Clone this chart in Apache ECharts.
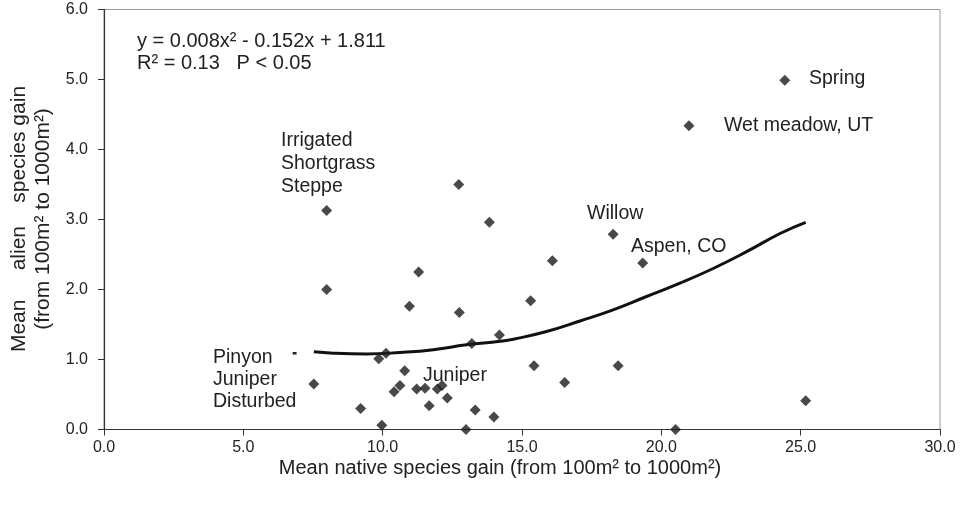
<!DOCTYPE html>
<html>
<head>
<meta charset="utf-8">
<script src="https://cdn.jsdelivr.net/npm/echarts@6/dist/echarts.min.js"></script>
<style>
html,body{margin:0;padding:0;background:#fff;}
#c{width:960px;height:509px;}
</style>
</head>
<body>
<div id="c"></div>
<script>
// Site points: mean native species gain (x) vs mean alien species gain (y)
const nativeGain = [24.43, 20.99, 12.73, 7.99, 13.83, 18.27, 16.09, 19.33, 11.29, 7.99,
  15.31, 10.96, 12.75, 14.19, 13.20, 10.12, 9.86, 15.43, 18.45, 10.79,
  16.53, 7.53, 10.62, 12.13, 11.52, 11.22, 11.96, 10.41, 12.32, 25.18,
  11.67, 9.21, 13.32, 13.99, 9.97, 12.99, 20.51];
const alienGain = [4.99, 4.34, 3.50, 3.13, 2.96, 2.79, 2.41, 2.38, 2.25, 2.00,
  1.84, 1.76, 1.67, 1.35, 1.23, 1.09, 1.01, 0.91, 0.91, 0.84,
  0.67, 0.65, 0.63, 0.63, 0.59, 0.58, 0.58, 0.54, 0.45, 0.41,
  0.34, 0.30, 0.28, 0.18, 0.06, 0.00, 0.00];

// Fitted curve
const fitX = [7.53, 8.23, 9.43, 10.62, 11.82, 13.01, 14.21, 14.69, 15.88, 17.08, 18.27, 19.47, 20.67, 21.86, 23.06, 24.26, 25.18];
const fitY = [1.11, 1.09, 1.08, 1.10, 1.14, 1.21, 1.26, 1.29, 1.40, 1.55, 1.71, 1.90, 2.09, 2.30, 2.54, 2.80, 2.96];

// small stray dash left of the curve start
const dashX = [6.77, 6.91];
const dashY = [1.09, 1.09];

const xAxisMin = 0, xAxisMax = 30, xStep = 5;
const yAxisMin = 0, yAxisMax = 6, yStep = 1;

const equationText = 'y = 0.008x² - 0.152x + 1.811';
const statsText = 'R² = 0.13   P < 0.05';
const xTitle = 'Mean native species gain (from 100m² to 1000m²)';
const yTitle1 = 'Mean     alien    species gain';
const yTitle2 = '(from 100m² to 1000m²)';
const siteLabels = ['Spring', 'Wet meadow, UT', 'Willow', 'Aspen, CO', 'Juniper',
  'Irrigated', 'Shortgrass', 'Steppe', 'Pinyon', 'Juniper', 'Disturbed'];

const FONT = '"Liberation Sans", Arial, Helvetica, sans-serif';
const TXT = '#222';
const chart = echarts.init(document.getElementById('c'), null, {renderer: 'canvas'});

function t(text, x, y, opts) {
  opts = opts || {};
  return {
    type: 'text', x: x, y: y, rotation: opts.rotation || 0, z: 100,
    style: {
      text: text, fill: TXT,
      font: (opts.size || 19.5) + 'px ' + FONT,
      align: opts.align || 'left', verticalAlign: 'middle',
      lineHeight: opts.lineHeight || 23
    }
  };
}

const labelPos = [
  [809, 79], [724, 126], [587, 214], [631, 247], [423, 376],
  [281, 141], [281, 164], [281, 187], [213, 358], [213, 380], [213, 402]
];

const graphics = [
  t(equationText, 137, 41, {size: 20}),
  t(statsText, 137, 63, {size: 20}),
  t(xTitle, 500, 468, {align: 'center', size: 20}),
  t(yTitle1 + '\n' + yTitle2, 31, 219, {align: 'center', rotation: Math.PI / 2, size: 21, lineHeight: 24})
];
siteLabels.forEach(function (s, i) { graphics.push(t(s, labelPos[i][0], labelPos[i][1])); });

chart.setOption({
  animation: false,
  backgroundColor: '#fff',
  grid: {left: 104, right: 20, top: 9.5, bottom: 79.5, show: true, borderColor: '#999', borderWidth: 1, backgroundColor: 'transparent'},
  xAxis: {
    type: 'value', min: xAxisMin, max: xAxisMax, interval: xStep,
    axisLine: {show: true, onZero: false, lineStyle: {color: '#333', width: 1.2}},
    axisTick: {show: true, inside: false, length: 6, lineStyle: {color: '#333'}},
    axisLabel: {color: TXT, fontSize: 16, fontFamily: FONT, margin: 10, formatter: function (v) { return v.toFixed(1); }},
    splitLine: {show: false}
  },
  yAxis: {
    type: 'value', min: yAxisMin, max: yAxisMax, interval: yStep,
    axisLine: {show: true, onZero: false, lineStyle: {color: '#333', width: 1.2}},
    axisTick: {show: true, inside: false, length: 6, lineStyle: {color: '#333'}},
    axisLabel: {color: TXT, fontSize: 16, fontFamily: FONT, margin: 16, formatter: function (v) { return v.toFixed(1); }},
    splitLine: {show: false}
  },
  graphic: graphics,
  series: [
    {
      type: 'line', data: fitX.map(function (x, i) { return [x, fitY[i]]; }),
      showSymbol: false, smooth: true, lineStyle: {color: '#111', width: 3}, z: 2, silent: true
    },
    {
      type: 'line', data: dashX.map(function (x, i) { return [x, dashY[i]]; }),
      showSymbol: false, lineStyle: {color: '#222', width: 2.5}, z: 2, silent: true
    },
    {
      type: 'scatter', data: nativeGain.map(function (x, i) { return [x, alienGain[i]]; }),
      symbol: 'diamond', symbolSize: 11, itemStyle: {color: '#1c1c1c'}, z: 3
    }
  ]
});
</script>
</body>
</html>
